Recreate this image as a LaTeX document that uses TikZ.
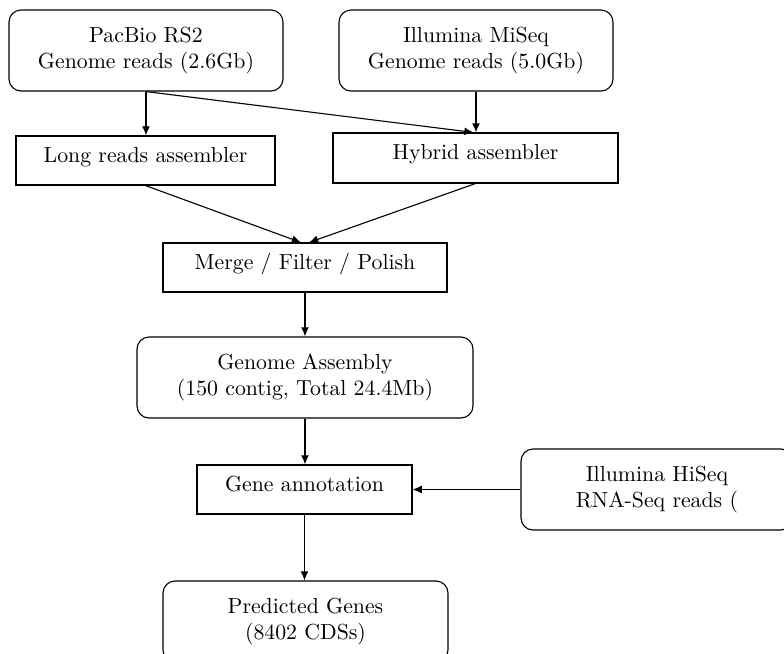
\documentclass[tikz,border=0pt]{standalone}
\usetikzlibrary{arrows.meta}
\begin{document}
\begin{tikzpicture}[x=0.5pt,y=-0.5pt,
  base/.style={draw=black,line width=0.55pt,align=center,inner sep=0pt,
    font=\fontsize{10.9}{12.6}\selectfont},
  roundbox/.style={base,rounded corners=6pt},
  sqbox/.style={base,text height=7.5pt,text depth=5.9pt},
  arr/.style={line width=0.55pt,-{Latex[length=4.6pt,width=4pt]}}]
\useasboundingbox (0,0) rectangle (784,654);
\clip (0,0) rectangle (784,654);
\node[roundbox,minimum width=137pt,minimum height=40.5pt] (pacbio) at (146,50.5) {PacBio RS2\\Genome reads (2.6Gb)};
\node[roundbox,minimum width=137pt,minimum height=40.5pt] (miseq) at (476,50.5) {Illumina MiSeq\\Genome reads (5.0Gb)};
\node[sqbox,minimum width=129.5pt,minimum height=24.5pt] (longr) at (145.5,160.5) {Long reads assembler};
\node[sqbox,minimum width=142.5pt,minimum height=25pt] (hybrid) at (475.5,158) {Hybrid assembler};
\node[sqbox,minimum width=142pt,minimum height=24.5pt] (merge) at (305,267.5) {Merge / Filter / Polish};
\node[roundbox,minimum width=168pt,minimum height=40.5pt] (genome) at (305,377.5) {Genome Assembly\\(150 contig, Total 24.4Mb)};
\node[sqbox,minimum width=107.5pt,minimum height=24.5pt] (genea) at (304.5,489.5) {Gene annotation};
\node[roundbox,minimum width=136pt,minimum height=40.5pt] (hiseq) at (657,489.5) {Illumina HiSeq\\RNA-Seq reads (};
\node[roundbox,minimum width=142.5pt,minimum height=40.5pt] (pred) at (305.5,621.5) {Predicted Genes\\(8402 CDSs)};
\draw[arr] (pacbio.south) -- (pacbio.south |- longr.north);
\draw[arr] (pacbio.south) -- ([xshift=-1pt]hybrid.north);
\draw[arr] (miseq.south) -- (miseq.south |- hybrid.north);
\draw[arr] (longr.south) -- ([xshift=-2pt]merge.north);
\draw[arr] (hybrid.south) -- ([xshift=2pt]merge.north);
\draw[arr] (merge.south) -- (merge.south |- genome.north);
\draw[arr] (genome.south) -- (genome.south |- genea.north);
\draw[arr] (genea.south) -- (genea.south |- pred.north);
\draw[arr] (hiseq.west) -- (hiseq.west -| genea.east);
\end{tikzpicture}
\end{document}
